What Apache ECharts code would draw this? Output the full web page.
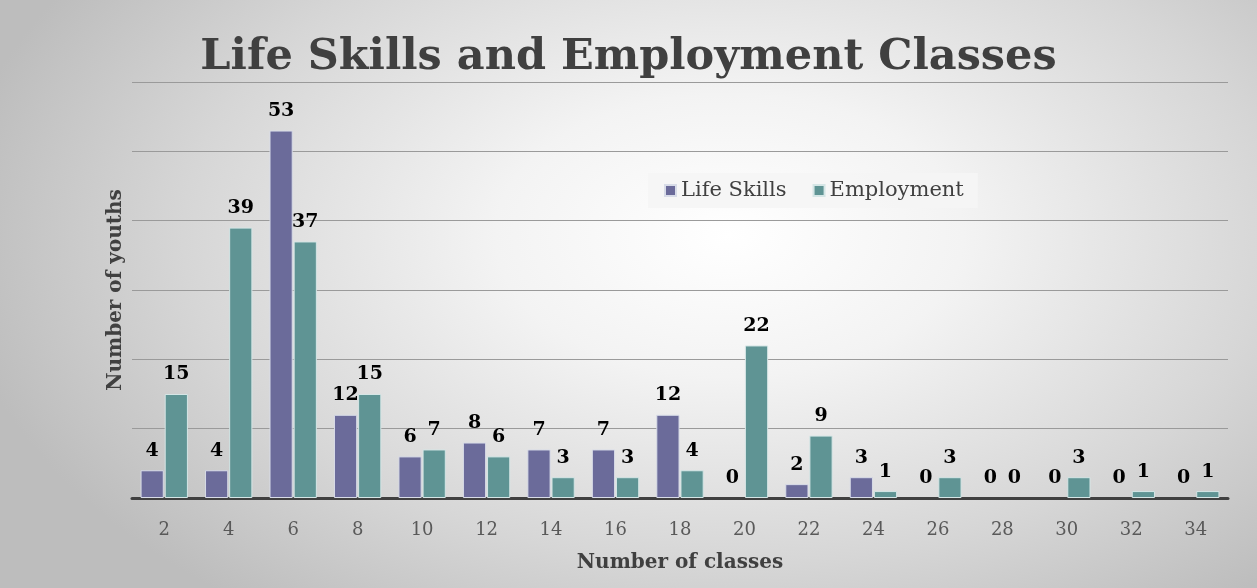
<!DOCTYPE html>
<html><head><meta charset="utf-8">
<script src="https://cdn.jsdelivr.net/npm/echarts@6/dist/echarts.min.js"></script>
<style>html,body{margin:0;padding:0;}
#c{width:1257px;height:588px;background:radial-gradient(ellipse 62% 80% at 58% 40%, #ffffff 0%, #f3f3f3 30%, #d6d6d6 70%, #bdbdbd 100%);}</style>
</head><body><div id="c"></div>
<script>
const categories = ['2','4','6','8','10','12','14','16','18','20','22','24','26','28','30','32','34'];
const lifeSkills = [4,4,53,12,6,8,7,7,12,0,2,3,0,0,0,0,0];
const employment = [15,39,37,15,7,6,3,3,4,22,9,1,3,0,3,1,1];
const serif = '"DejaVu Serif", "Liberation Serif", serif';
const chart = echarts.init(document.getElementById('c'));
const label = {show:true, position:'top', distance:10, fontFamily:serif, fontWeight:'bold', fontSize:19, color:'#000'};
const noBorderZero = arr => arr.map(v => v === 0 ? {value:v, itemStyle:{borderWidth:0}} : v);
chart.setOption({
  backgroundColor: 'transparent',
  title: {text:'Life Skills and Employment Classes', left:'center', top:31, textStyle:{fontFamily:serif, fontWeight:'bold', fontSize:43, color:'#404040'}},
  legend: {top:173, left:648, itemWidth:11, itemHeight:11, itemGap:26, backgroundColor:'rgba(245,245,245,0.9)', padding:[7,14,7,16],
    textStyle:{fontFamily:serif, fontSize:21, color:'#404040'}, icon:'rect', data:['Life Skills','Employment']},
  grid: {left:132, right:29, top:82, bottom:90},
  xAxis: {type:'category', data:categories, name:'Number of classes', nameLocation:'middle', nameGap:55,
    nameTextStyle:{fontFamily:serif, fontWeight:'bold', fontSize:20, color:'#404040'},
    axisLine:{lineStyle:{color:'#404040', width:3}}, axisTick:{show:false},
    axisLabel:{fontFamily:serif, fontSize:18, color:'#595959', margin:23}},
  yAxis: {type:'value', min:0, max:60, interval:10, name:'Number of youths', nameLocation:'middle', nameGap:6,
    nameTextStyle:{fontFamily:serif, fontWeight:'bold', fontSize:20, color:'#404040'},
    axisLabel:{show:false}, axisLine:{show:false}, axisTick:{show:false},
    splitLine:{lineStyle:{color:'#9a9a9a', width:1}}},
  series: [
    {name:'Life Skills', type:'bar', data:noBorderZero(lifeSkills), barWidth:'36%', barGap:'4%', barCategoryGap:'27%',
      itemStyle:{color:'#6b6b9a', borderColor:'#d8dce8', borderWidth:1}, label:label},
    {name:'Employment', type:'bar', data:noBorderZero(employment), barWidth:'36%', barGap:'4%',
      itemStyle:{color:'#5f9494', borderColor:'#d5e6e6', borderWidth:1}, label:label}
  ]
});
</script></body></html>
